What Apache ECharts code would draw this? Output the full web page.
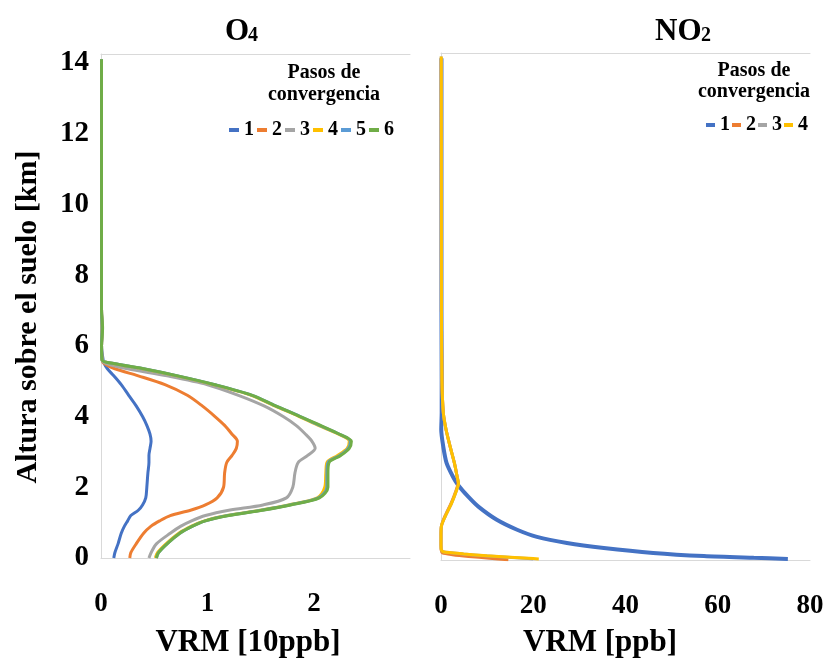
<!DOCTYPE html>
<html>
<head>
<meta charset="utf-8">
<script src="https://cdn.jsdelivr.net/npm/echarts@6/dist/echarts.min.js"></script>
<style>
html,body{margin:0;padding:0;background:#fff;}
#c{width:827px;height:665px;}
</style>
</head>
<body>
<div id="c"></div>
<script>
// ---------- O4 panel (VRM in 10 ppb vs altitude km) ----------
const o4Alt   = [0, 0.15, 0.4, 0.7, 0.9, 1.05, 1.2, 1.35, 1.5, 1.7, 2.0, 2.4, 2.7, 2.9, 3.1, 3.3, 3.5, 3.75, 4.0, 4.3, 4.6, 4.9, 5.15, 5.35, 5.5, 5.6, 6.0, 6.5, 7.0, 10.0, 14.1];
const o4Step1 = [0.12,0.13,0.16,0.19,0.22,0.25,0.28,0.35,0.39,0.42,0.43,0.44,0.45,0.45,0.46,0.47,0.46,0.43,0.39,0.33,0.26,0.19,0.12,0.06,0.03,0.02,0.005,0.01,0.005,0.005,0.005];
const o4Step2 = [0.27,0.28,0.33,0.40,0.47,0.55,0.65,0.84,0.98,1.09,1.15,1.16,1.18,1.23,1.27,1.28,1.23,1.16,1.07,0.95,0.81,0.60,0.35,0.13,0.03,0.01,0.005,0.01,0.005,0.005,0.005];
const o4Step3 = [0.45,0.47,0.52,0.65,0.75,0.85,0.98,1.20,1.52,1.74,1.80,1.82,1.85,1.94,2.01,1.98,1.92,1.83,1.71,1.53,1.29,1.00,0.62,0.25,0.05,0.01,0.005,0.01,0.005,0.005,0.005];
const o4Step4 = [0.51,0.53,0.61,0.73,0.85,0.97,1.18,1.49,1.76,2.03,2.10,2.11,2.12,2.22,2.31,2.33,2.23,2.04,1.86,1.63,1.41,1.06,0.71,0.39,0.11,0.01,0.005,0.01,0.005,0.005,0.005];
const o4Step5 = [0.52,0.54,0.62,0.74,0.86,0.98,1.19,1.50,1.77,2.04,2.12,2.12,2.13,2.24,2.32,2.34,2.24,2.05,1.87,1.64,1.42,1.07,0.72,0.40,0.12,0.01,0.005,0.01,0.005,0.005,0.005];
const o4Step6 = [0.52,0.54,0.62,0.74,0.86,0.98,1.20,1.51,1.78,2.05,2.13,2.13,2.14,2.25,2.33,2.35,2.24,2.06,1.87,1.64,1.42,1.07,0.72,0.40,0.12,0.01,0.005,0.015,0.005,0.005,0.005];
const o4Steps = [o4Step1, o4Step2, o4Step3, o4Step4, o4Step5, o4Step6];
const o4Names = ['1','2','3','4','5','6'];

// ---------- NO2 panel (VRM in ppb vs altitude km) ----------
const no2Alt1  = [0.03,0.06,0.11,0.2,0.34,0.48,0.65,0.85,1.13,1.5,1.78,2.11,2.34,2.73,3.18,3.66,4.14,5.07,7,10,14.1];
const no2Step1 = [75.2,67.8,57,46,35.3,27.3,20.8,16.5,12.1,8.1,5.9,3.7,2.6,1.2,0.5,0.05,0.15,0.15,0.1,0.1,0.1];
const no2Alt2  = [0.01,0.05,0.1,0.15,0.2,0.27,0.5,0.7,0.96,1.22,1.6,1.97,2.15,2.34,2.73,3.18,3.66,4.14,5.07,7,10,14.1];
const no2Step2 = [14.6,10.5,6,2.5,0.3,0.05,0,0,0.1,0.8,2.2,3.3,3.7,3.5,2.9,2.0,1.1,0.5,0.2,0.1,0.08,0.05];
const no2Alt3  = [0.03,0.05,0.08,0.12,0.17,0.23,0.3,0.5,0.7,0.96,1.22,1.6,1.97,2.15,2.34,2.73,3.18,3.66,4.14,5.07,7,10,14.15];
const no2Step3 = [20,18,14.5,9.5,4.8,0.5,0.05,0,0,0.1,0.9,2.3,3.4,3.8,3.5,2.9,2.0,1.1,0.5,0.2,0.1,0.08,0.05];
const no2Alt4  = [0.03,0.05,0.08,0.12,0.17,0.23,0.3,0.5,0.7,0.96,1.22,1.6,1.97,2.15,2.34,2.73,3.18,3.66,4.14,5.07,7,10,14.15];
const no2Step4 = [21.2,19,15,10,5,0.5,0.05,0,0,0.1,0.9,2.3,3.4,3.8,3.5,2.9,2.0,1.1,0.5,0.2,0.1,0.08,0.05];
const no2Alts  = [no2Alt1, no2Alt2, no2Alt3, no2Alt4];
const no2Steps = [no2Step1, no2Step2, no2Step3, no2Step4];
const no2Names = ['1','2','3','4'];

// ---------- ticks ----------
const altTicks = [0,2,4,6,8,10,12,14];
const o4Ticks  = [0,1,2];
const no2Ticks = [0,20,40,60,80];

const colors = ['#4472C4','#ED7D31','#A5A5A5','#FFC000','#5B9BD5','#70AD47'];
const FONT = '"Times New Roman","Liberation Serif","DejaVu Serif",serif';
const axisGray = '#D9D9D9';

const chart = echarts.init(document.getElementById('c'), null, {renderer:'canvas'});

function pairs(xs, ys){ return xs.map((x,i)=>[x, ys[i]]); }

const series = [];
o4Steps.forEach((vals,i)=>{
  series.push({
    name:o4Names[i], type:'line', xAxisIndex:0, yAxisIndex:0,
    data:pairs(vals, o4Alt), showSymbol:false, smooth:0.3,
    color:colors[i], lineStyle:{width:3, color:colors[i]}, z:2+i
  });
});
no2Steps.forEach((vals,i)=>{
  series.push({
    name:no2Names[i], type:'line', xAxisIndex:1, yAxisIndex:1,
    data:pairs(vals, no2Alts[i]), showSymbol:false, smooth:0.25,
    color:colors[i], lineStyle:{width: i===0 ? 4 : 3, color:colors[i]}, z:2+i
  });
});

const tickLabel = (size)=>({fontFamily:FONT, fontWeight:'bold', fontSize:size, color:'#000'});

chart.setOption({
  animation:false,
  backgroundColor:'#fff',
  grid:[
    {left:101, top:54, width:309, height:504, outerBoundsMode:'none', containLabel:false},
    {left:441, top:53, width:369, height:507, outerBoundsMode:'none', containLabel:false}
  ],
  xAxis:[
    {type:'value', gridIndex:0, min:0, max:2.9, interval:1,
     axisLine:{show:true, lineStyle:{color:axisGray, width:1}}, axisTick:{show:false}, splitLine:{show:false},
     axisLabel:Object.assign({margin:33, customValues:o4Ticks}, tickLabel(27))},
    {type:'value', gridIndex:1, min:0, max:80, interval:20,
     axisLine:{show:true, lineStyle:{color:axisGray, width:1}}, axisTick:{show:false}, splitLine:{show:false},
     axisLabel:Object.assign({margin:33, customValues:no2Ticks}, tickLabel(27))},
    {type:'value', gridIndex:0, position:'top', min:0, max:2.9,
     axisLine:{show:true, lineStyle:{color:axisGray, width:1}}, axisTick:{show:false}, axisLabel:{show:false}, splitLine:{show:false}},
    {type:'value', gridIndex:1, position:'top', min:0, max:80,
     axisLine:{show:true, lineStyle:{color:axisGray, width:1}}, axisTick:{show:false}, axisLabel:{show:false}, splitLine:{show:false}}
  ],
  yAxis:[
    {type:'value', gridIndex:0, min:0, max:14.25, interval:2,
     axisLine:{show:true, lineStyle:{color:axisGray, width:1}}, axisTick:{show:false}, splitLine:{show:false},
     axisLabel:Object.assign({margin:12, customValues:altTicks}, tickLabel(29))},
    {type:'value', gridIndex:1, min:0, max:14.25, interval:2,
     axisLine:{show:true, lineStyle:{color:axisGray, width:1}}, axisTick:{show:false}, splitLine:{show:false},
     axisLabel:{show:false}}
  ],
  legend:[
    {data:o4Names, left:229, top:120, orient:'horizontal', icon:'rect', itemWidth:10, itemHeight:4, itemGap:3,
     padding:0, selectedMode:false, textStyle:{fontFamily:FONT, fontWeight:'bold', fontSize:20, color:'#000'}},
    {data:no2Names, left:706, top:115, orient:'horizontal', icon:'rect', itemWidth:9, itemHeight:4, itemGap:2,
     padding:0, selectedMode:false, textStyle:{fontFamily:FONT, fontWeight:'bold', fontSize:20, color:'#000'}}
  ],
  graphic:[
    {type:'text', x:225, y:32, style:{text:'O', fontFamily:FONT, fontWeight:'bold', fontSize:31, fill:'#000', verticalAlign:'middle', align:'left'}},
    {type:'text', x:248, y:36, style:{text:'4', fontFamily:FONT, fontWeight:'bold', fontSize:20, fill:'#000', verticalAlign:'middle', align:'left'}},
    {type:'text', x:655, y:32, style:{text:'NO', fontFamily:FONT, fontWeight:'bold', fontSize:31, fill:'#000', verticalAlign:'middle', align:'left'}},
    {type:'text', x:701, y:36, style:{text:'2', fontFamily:FONT, fontWeight:'bold', fontSize:20, fill:'#000', verticalAlign:'middle', align:'left'}},
    {type:'text', x:324, y:84, style:{text:'Pasos de\nconvergencia', lineHeight:22, fontFamily:FONT, fontWeight:'bold', fontSize:20, fill:'#000', verticalAlign:'middle', align:'center'}},
    {type:'text', x:754, y:81, style:{text:'Pasos de\nconvergencia', lineHeight:21, fontFamily:FONT, fontWeight:'bold', fontSize:20, fill:'#000', verticalAlign:'middle', align:'center'}},
    {type:'text', x:28, y:317, rotation:Math.PI/2, style:{text:'Altura sobre el suelo [km]', fontFamily:FONT, fontWeight:'bold', fontSize:30, fill:'#000', verticalAlign:'middle', align:'center'}},
    {type:'text', x:248, y:643, style:{text:'VRM [10ppb]', fontFamily:FONT, fontWeight:'bold', fontSize:31, fill:'#000', verticalAlign:'middle', align:'center'}},
    {type:'text', x:600, y:643, style:{text:'VRM [ppb]', fontFamily:FONT, fontWeight:'bold', fontSize:31, fill:'#000', verticalAlign:'middle', align:'center'}}
  ],
  series:series
});
</script>
</body>
</html>
